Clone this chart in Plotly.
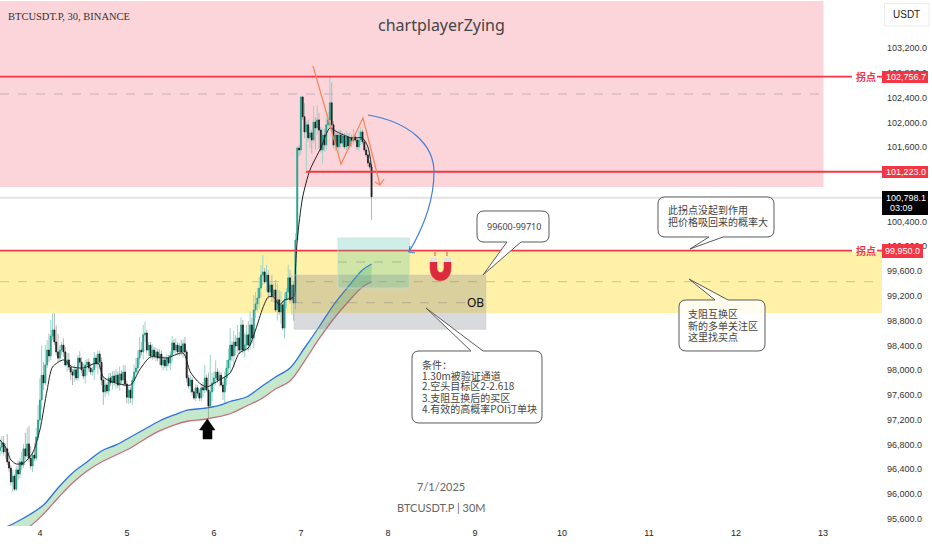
import plotly.graph_objects as go

# ---------- data ----------
close = [96760,96825,96680,96730,96520,96420,96195,96290,96080,96390,
 96325,96520,96470,96730,96615,96810,96580,96455,96630,96580,
 96920,97195,97520,97920,97795,98085,98325,98230,98550,98650,
 98455,98295,98195,98325,98405,98295,98085,98165,98050,97970,
 97920,98005,97875,98195,98130,98005,97905,98085,98130,98035,
 97970,98005,98195,98100,98260,98130,97840,97650,97760,97665,
 97875,97795,97905,97810,97920,97760,97940,97840,97970,97775,
 97565,97680,97550,97840,97970,98035,98195,98325,98295,98570,
 98600,98325,98405,98230,98325,98230,98295,98195,98260,98085,
 98165,98070,98195,98115,98245,98440,98325,98405,98295,98390,
 98295,98425,98295,97875,97745,97840,97650,97550,97715,97630,
 97550,97715,97680,97875,97680,97420,97650,97795,97875,97970,
 97840,97920,97760,97650,97875,98035,98165,98405,98230,98455,
 98390,98520,98325,98730,98325,98405,98570,98405,98730,98520,
 98970,99070,99165,99325,99535,99585,99425,99535,99260,99375,
 99200,99295,98970,99135,98940,99055,98680,99135,99260,99490,
 99135,99375,99085,100100,101585,101555,102410,102090,101845,101960,
 101750,101830,101715,102005,101910,102040,101875,101555,101795,101635,
 101960,102040,102315,101960,101635,101795,101605,101795,101665,101780,
 101605,101765,101620,101750,101700,101765,101715,101605,101715,101845,
 101685,101555,101475,101345,101280,100798.1]
first_open = 96700
upper_wick = [140,110,110,80,240,160,50,100,30,60,
 150,60,160,80,260,260,290,190,50,190,
 150,240,350,480,210,320,160,260,260,270,
 270,270,290,80,50,110,80,110,110,40,
 50,80,50,50,110,80,100,80,50,60,
 80,50,100,60,60,50,80,50,90,40,
 80,80,80,80,100,60,120,60,110,110,
 60,60,50,60,120,160,130,210,130,160,
 180,50,50,50,90,50,80,50,80,60,
 60,60,60,50,60,110,60,110,50,50,
 100,70,110,40,50,80,50,50,60,50,
 60,50,90,210,50,280,600,160,100,190,
 60,70,50,50,100,130,180,270,60,180,
 110,210,100,120,80,200,160,220,220,120,
 240,190,160,180,160,270,60,160,80,60,
 160,100,160,260,160,220,70,110,70,210,
 130,170,60,110,30,50,10,20,220,60,
 80,100,50,260,80,240,110,50,110,100,
 110,130,420,330,60,80,50,90,80,60,
 50,100,60,90,50,130,60,50,160,80,
 40,50,50,30,40,40]
lower_wick = [80,110,60,110,50,60,60,160,30,30,
 90,70,80,50,60,40,60,60,100,50,
 40,50,70,160,110,40,50,100,70,60,
 50,60,60,60,80,80,30,110,50,130,
 160,110,40,50,60,50,50,120,170,60,
 50,60,160,60,170,120,80,210,80,50,
 80,50,110,60,110,50,90,60,100,40,
 100,110,80,110,80,60,100,110,60,120,
 110,60,100,40,70,50,90,50,110,40,
 90,40,80,50,110,100,50,80,50,70,
 60,100,30,70,40,110,60,30,50,50,
 50,50,110,50,30,220,30,150,130,120,
 50,100,30,130,180,120,120,200,80,180,
 150,110,60,40,50,120,60,100,80,90,
 160,130,120,180,150,160,30,150,110,70,
 100,110,30,170,50,190,40,170,140,100,
 60,240,290,100,30,100,80,50,100,610,
 60,170,220,50,350,110,300,40,220,110,
 90,60,100,70,60,100,40,130,70,60,
 40,60,40,60,100,60,40,50,70,80,
 40,30,40,60,40,375]

band_bars = [0,8,16,24,32,40,48,56,64,72,80,88,96,104,112,120,128,136,144,152,160,168,176,184,192,200,205]
band_upper = [95421,95534,95663,95824,96099,96341,96518,96696,96793,96922,97051,97180,97277,97358,97382,97422,
 97503,97567,97729,97890,98035,98358,98697,99052,99343,99617,99714]
band_lower = [95259,95340,95469,95679,95937,96179,96373,96518,96631,96744,96890,97019,97115,97180,97204,97245,
 97309,97422,97535,97697,97826,98148,98504,98826,99101,99343,99424]

ma_bars = [0,3,6,9,13,18,22,26,29,35,40,46,54,57,62,72,77,83,92,101,105,110,114,121,127,132,137,141,145,148,151,154,157,162,163,164,167,171,177,182,186,194,200,203,205]
ma_vals = [96873,96760,96551,96486,96502,96664,97035,97680,98052,98165,98052,98036,98116,97890,97810,97761,98003,
 98213,98197,98277,97971,97793,97729,97842,97955,98277,98358,98649,99004,99181,99181,99052,99133,99181,99617,
 100101,100795,101231,101586,101909,101845,101748,101748,101602,101280]

y_ticks = [95600,96000,96400,96800,97200,97600,98000,98400,98800,99200,99600,100000,100400,101600,102000,102400,102800,103200]
x_days = [4,5,6,7,8,9,10,11,12,13]
level_lines = [102737,101203,99930]
level_tags = ["102,756.7","101,223.0","99,950.0"]
last_price_tag = "100,798.1"
countdown = "03:09"
title_text = "chartplayerZying"
symbol_text = "BTCUSDT.P, 30, BINANCE"
date_text = "7/1/2025"
sub_text = "BTCUSDT.P | 30M"

# ---------- geometry of the page ----------
W, H = 932, 550
PW, PH = 882, 526
DAY0 = 3.54
DAY_PX = 87.0
YMAX, YMIN = 103975, 95485

def fx(px): return px / PW
def fy(py): return 1 - py / PH
def P(px, py): return f"{fx(px):.5f},{fy(py):.5f}"

bars = list(range(len(close)))
xs = [DAY0 + i / 48 for i in bars]
opens = [first_open] + close[:-1]
tops = [max(o, c) for o, c in zip(opens, close)]
bots = [min(o, c) for o, c in zip(opens, close)]
highs = [t + u for t, u in zip(tops, upper_wick)]
lows = [b - l for b, l in zip(bots, lower_wick)]

fig = go.Figure()
# band
fig.add_trace(go.Scatter(x=[DAY0 + b / 48 for b in band_bars], y=band_upper, mode="lines",
    line=dict(color="#2f73d8", width=1.3, shape="spline"), hoverinfo="skip"))
fig.add_trace(go.Scatter(x=[DAY0 + b / 48 for b in band_bars], y=band_lower, mode="lines",
    line=dict(color="#c4707a", width=1.3, shape="spline"), fill="tonexty",
    fillcolor="rgba(110,195,125,0.40)", hoverinfo="skip"))
# wicks
fig.add_trace(go.Candlestick(x=xs, open=opens, high=highs, low=lows, close=close,
    increasing=dict(line=dict(color="#9ad3c8", width=1), fillcolor="#9ad3c8"),
    decreasing=dict(line=dict(color="#b4b4b4", width=1), fillcolor="#b4b4b4"), hoverinfo="skip"))
# bodies
fig.add_trace(go.Candlestick(x=xs, open=opens, high=tops, low=bots, close=close,
    increasing=dict(line=dict(color="#1f9f8a", width=0.7), fillcolor="#1f9f8a"),
    decreasing=dict(line=dict(color="#1a1a1a", width=0.7), fillcolor="#1a1a1a"), hoverinfo="skip"))
# moving average
fig.add_trace(go.Scatter(x=[DAY0 + b / 48 for b in ma_bars], y=ma_vals, mode="lines",
    line=dict(color="#222222", width=1, shape="spline", smoothing=0.7), hoverinfo="skip"))

shapes, notes = [], []

def rect(x0, y0, x1, y1, fill, line="rgba(0,0,0,0)", layer="above", lw=1):
    shapes.append(dict(type="rect", xref="paper", yref="paper", x0=fx(x0), x1=fx(x1), y0=fy(y0), y1=fy(y1),
                       fillcolor=fill, line=dict(color=line, width=lw), layer=layer))

def seg(x0, y0, x1, y1, color, width=1, dash="solid", layer="above"):
    shapes.append(dict(type="line", xref="paper", yref="paper", x0=fx(x0), x1=fx(x1), y0=fy(y0), y1=fy(y1),
                       line=dict(color=color, width=width, dash=dash), layer=layer))

def path(d, line="rgba(0,0,0,0)", fill="rgba(0,0,0,0)", width=1, layer="above"):
    shapes.append(dict(type="path", xref="paper", yref="paper", path=d, fillcolor=fill,
                       line=dict(color=line, width=width), layer=layer))

def text(px, py, s, size=10, color="#333333", fam="Noto Sans CJK SC", anchor="left", bold=False):
    notes.append(dict(xref="paper", yref="paper", x=fx(px), y=fy(py), text=f"<b>{s}</b>" if bold else s,
                      showarrow=False, xanchor=anchor, yanchor="middle",
                      font=dict(size=size, color=color, family=fam), borderpad=0))

def callout(l, t, r, b, tip, base0, base1, edge, fill="white"):
    c = 7
    if edge == "bottom":
        tail = f"L{P(base1, b)} L{P(tip[0], tip[1])} L{P(base0, b)} "
        d = (f"M{P(l+c, t)} L{P(r-c, t)} Q{P(r, t)} {P(r, t+c)} L{P(r, b-c)} Q{P(r, b)} {P(r-c, b)} "
             f"{tail}L{P(l+c, b)} Q{P(l, b)} {P(l, b-c)} L{P(l, t+c)} Q{P(l, t)} {P(l+c, t)} Z")
    else:
        tail = f"L{P(base0, t)} L{P(tip[0], tip[1])} L{P(base1, t)} "
        d = (f"M{P(l+c, t)} {tail}L{P(r-c, t)} Q{P(r, t)} {P(r, t+c)} L{P(r, b-c)} Q{P(r, b)} {P(r-c, b)} "
             f"L{P(l+c, b)} Q{P(l, b)} {P(l, b-c)} L{P(l, t+c)} Q{P(l, t)} {P(l+c, t)} Z")
    path(d, line="#5a5a5a", fill=fill, width=1)

# background zones
rect(0, 1, 823.5, 187, "#fcd5da", layer="below")
rect(0, 252, PW, 313, "#fff2a8", layer="below")
seg(0, 94, 823.5, 94, "rgba(120,120,120,0.4)", 1, "dash", "below")
seg(0, 281.7, PW, 281.7, "rgba(120,120,120,0.4)", 1, "dash", "below")
seg(0, 197.7, PW, 197.7, "#e2e2e2", 2, "solid", "below")

# level lines
RED = "#f23645"
def ly(v): return (YMAX - v) / (YMAX - YMIN) * PH
seg(0, ly(level_lines[0]), 852, ly(level_lines[0]), RED, 1.8)
seg(877, ly(level_lines[0]), PW, ly(level_lines[0]), RED, 1.8)
seg(306, ly(level_lines[1]), PW, ly(level_lines[1]), RED, 1.8)
seg(0, ly(level_lines[2]), 852, ly(level_lines[2]), RED, 1.8)
seg(877, ly(level_lines[2]), PW, ly(level_lines[2]), RED, 1.8)
text(865.5, ly(level_lines[0]), "拐点", 10, RED, anchor="center", bold=True)
text(865.5, ly(level_lines[2]), "拐点", 10, RED, anchor="center", bold=True)

# boxes
rect(294, 275, 486, 329.3, "rgba(120,123,134,0.28)", "rgba(200,200,200,0.5)")
seg(294, 302.7, 486, 302.7, "rgba(120,120,120,0.4)", 1, "dash")
rect(338, 238, 409.3, 288, "rgba(70,190,165,0.26)", "rgba(190,225,215,0.7)")
seg(338, 262, 409.3, 262, "rgba(120,120,120,0.4)", 1, "dash")
text(475, 302, "OB", 12, "#111111", "Noto Sans", "center")

# hand-drawn zigzag + arrow
ORANGE = "#f5845a"
path(f"M{P(313,66)} L{P(341,164)} L{P(363,118)} L{P(380,185)}", line=ORANGE, width=1.2)
path(f"M{P(375,182)} L{P(380,185)} L{P(384,179)}", line=ORANGE, width=1.2)
# blue curve
BLUE = "#3f7fd6"
path(f"M{P(368,115)} C{P(410,122)} {P(434,145)} {P(434,172)} C{P(434,200)} {P(425,225)} {P(409,252)}", line=BLUE, width=1.2)
path(f"M{P(410,246)} L{P(409,252)} L{P(415,253)}", line=BLUE, width=1.2)

# up arrow
path(f"M{P(207.3,419)} L{P(215,430)} L{P(212,430)} L{P(212,439)} L{P(203,439)} L{P(203,430)} L{P(199.5,430)} Z",
     fill="#000000", line="#000000", width=0.5)

# magnet
path(f"M{P(430,262)} L{P(430,268)} C{P(430,285)} {P(451,285)} {P(451,268)} L{P(451,262)} L{P(444,262)} L{P(444,268)} "
     f"C{P(444,274)} {P(437,274)} {P(437,268)} L{P(437,262)} Z", fill="#dc2b3c", line="#dc2b3c", width=0.5)
rect(430, 257.5, 437, 262, "#e4e4e4")
rect(444, 257.5, 451, 262, "#e4e4e4")
seg(435, 252, 435, 256, "#e0503f", 1)
seg(447, 252, 447, 256, "#e0503f", 1)

# callouts
GR = "#444444"
callout(477, 211, 549, 242, (483, 275), 507, 521, "bottom")
text(513.5, 226, "99600-99710", 9, GR, "Noto Sans", "center")

callout(412, 351, 542, 423, (426, 308), 471, 483, "top")
for yy, s in zip([364, 375, 386, 397, 408],
                 ["条件：", "1.30m被验证通道", "2.空头目标区2-2.618", "3.支阻互换后的买区", "4.有效的高概率POI订单块"]):
    text(421, yy, s, 10, GR)

callout(658, 197, 774, 237, (690, 249), 709, 723, "bottom")
text(667, 210, "此拐点没起到作用", 10, GR)
text(667, 222, "把价格吸回来的概率大", 10, GR)

callout(679, 300, 765, 351, (689, 279), 715, 728, "top", fill="rgba(255,255,255,0.82)")
text(687, 313, "支阻互换区", 10, GR)
text(687, 325, "新的多单关注区", 10, GR)
text(687, 336, "这里找买点", 10, GR)

# top / bottom texts
text(441, 25, title_text, 16, "#444444", "Noto Sans", "center")
text(7, 16, symbol_text, 10.5, "#333333", "Liberation Serif")
text(441, 486, date_text, 11, "#666666", "Lato", "center")
text(441, 507, sub_text, 11, "#666666", "Lato", "center")

# price-scale tags
TF = "Liberation Sans"
rect(882, 71, 928, 83, RED)
text(906, 76.7, level_tags[0], 9, "white", TF, "center")
rect(882, 166, 928, 178, RED)
text(906, 171.7, level_tags[1], 9, "white", TF, "center")
rect(882, 244, 923, 258, RED)
text(902.5, 250.7, level_tags[2], 9, "white", TF, "center")
rect(882, 191, 928, 215, "#000000")
text(906, 197.5, last_price_tag, 9, "white", TF, "center")
text(889, 208, countdown, 9, "white", TF, "left")
rect(884.5, 3.5, 929, 26, "white", "#ececec")
text(906.5, 15, "USDT", 10, "#222222", TF, "center")

fig.update_layout(
    width=W, height=H, autosize=False, showlegend=False,
    margin=dict(l=0, r=W - PW, t=0, b=H - PH),
    paper_bgcolor="white", plot_bgcolor="white",
    shapes=shapes, annotations=notes,
    xaxis=dict(range=[DAY0, DAY0 + PW / DAY_PX], tickmode="array", tickvals=x_days, ticktext=[str(d) for d in x_days],
               showgrid=False, zeroline=False, showline=False, ticks="", rangeslider=dict(visible=False),
               tickfont=dict(size=9, color="#222222", family=TF), fixedrange=True),
    yaxis=dict(range=[YMIN, YMAX], side="right", tickmode="array", tickvals=y_ticks, tickformat=",.1f",
               showgrid=False, zeroline=False, showline=False, ticks="", ticklabelstandoff=4,
               tickfont=dict(size=9, color="#333333", family=TF), fixedrange=True),
)

fig.write_html("out.html", config=dict(displayModeBar=False),
               post_script="document.body.style.margin='0';document.body.style.overflow='hidden';")
